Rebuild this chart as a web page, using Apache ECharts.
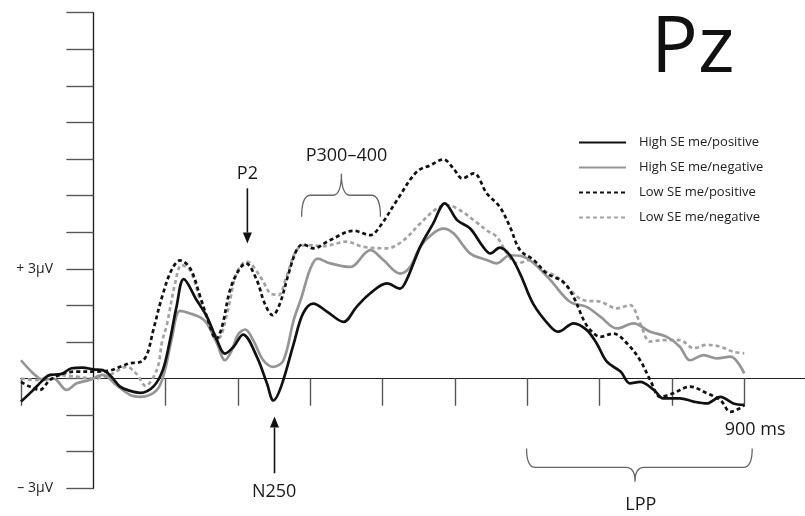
<!DOCTYPE html>
<html><head><meta charset="utf-8">
<script src="https://cdn.jsdelivr.net/npm/echarts@6/dist/echarts.min.js"></script>
<style>html,body{margin:0;padding:0;background:#fff}#c{width:805px;height:516px}</style>
</head><body><div id="c"></div>
<script>
// ---- data (time in ms, amplitude in µV) ----
const names = ['High SE me/positive','High SE me/negative','Low SE me/positive','Low SE me/negative'];

const hpT = [-100,-85,-70,-60,-45,-30,-15,0,13,25,37,50,65,83,96,106,115,125,143,157,171,182,194,207,226,240,249,260,277,290,304,323,346,364,383,406,424,433,452,470,486,503,521,539,549,562,576,590,608,632,643,664,682,696,710,729,742,756,775,788,811,830,848,867,885,900];
const hpV = [-0.63,-0.35,-0.05,0.1,0.12,0.28,0.3,0.25,0.23,0.05,-0.22,-0.33,-0.39,-0.22,0.23,1.05,1.96,2.72,2.14,1.69,1.05,0.68,0.87,1.2,0.6,-0.13,-0.6,-0.2,0.95,1.78,2.05,1.83,1.55,1.96,2.33,2.6,2.46,2.69,3.6,4.24,4.79,4.33,4.1,3.6,3.42,3.58,3.37,2.87,2.05,1.42,1.28,1.51,1.33,0.96,0.46,0.19,-0.13,-0.09,-0.31,-0.54,-0.54,-0.63,-0.68,-0.5,-0.68,-0.72];

const hnT = [-100,-83,-69,-55,-37,-23,-5,13,32,51,65,88,99,108,120,134,148,157,171,182,191,200,210,221,235,249,263,277,288,300,310,327,355,383,401,424,438,452,470,484,498,521,544,558,576,595,609,632,659,682,701,724,747,770,793,811,825,844,862,881,900];
const hnV = [0.5,0.14,-0.04,0,-0.31,-0.13,-0.04,0.1,-0.18,-0.45,-0.5,-0.31,0.23,1.05,1.85,1.78,1.67,1.51,0.96,0.5,0.75,1.2,1.34,1.05,0.5,0.32,0.5,1.6,2.23,3.0,3.28,3.15,3.05,3.51,3.24,2.87,3.05,3.6,3.97,4.1,3.97,3.42,3.24,3.15,3.37,3.33,3.15,2.69,2.1,1.96,1.69,1.37,1.51,1.28,1.14,0.87,0.5,0.64,0.55,0.6,0.14];

const lpT = [-100,-88,-74,-60,-41,-23,5,23,37,51,65,74,83,95,108,120,134,148,157,170,178,189,201,211,226,237,248,258,270,281,290,304,327,360,383,396,420,447,466,484,498,510,526,544,562,576,590,609,627,650,664,678,687,701,719,738,756,770,784,802,825,848,867,881,894,900];
const lpV = [-0.09,-0.22,-0.31,-0.04,0.14,0.19,0.19,0.22,0.32,0.42,0.45,0.65,1.33,2.23,2.96,3.23,3.01,2.23,1.69,1.08,1.42,2.42,2.96,3.15,2.69,2.05,1.73,2.05,2.87,3.51,3.67,3.56,3.78,4.04,3.92,4.15,4.88,5.65,5.83,5.99,5.74,5.47,5.61,5.06,4.69,4.15,3.51,3.24,2.87,2.64,2.23,1.6,1.33,1.14,1.23,0.96,0.5,-0.04,-0.5,-0.4,-0.22,-0.4,-0.59,-0.91,-0.81,-0.72];

const lnT = [-100,-78,-55,-23,0,23,46,60,72,88,95,102,113,122,134,148,161,173,185,198,212,231,244,249,256,267,281,295,318,350,373,406,429,452,475,489,507,526,544,558,572,586,604,622,641,655,678,701,724,742,756,770,788,811,830,848,867,885,900];
const lnV = [0,-0.04,0.1,0.05,0,0.1,0.32,0.12,-0.2,0.25,1.0,1.5,2.6,3.1,2.95,2.14,1.51,1.1,1.78,2.87,3.2,2.78,2.33,2.3,2.28,2.78,3.51,3.65,3.62,3.74,3.6,3.56,3.78,4.24,4.65,4.74,4.6,4.33,4.05,3.87,3.42,3.15,3.24,2.96,2.78,2.51,2.14,2.1,1.92,2.01,1.51,1.01,1.05,1.05,0.83,0.92,0.87,0.73,0.69];

// axis ticks
const xTickValues = [-100,100,200,300,400,500,600,700,800,900];
const yLabelValues = [3,-3];

// annotations
const noteText = ['P2','N250','P300\u2013400','900 ms','LPP'];
const noteT = [213,250,350,915,757];
const noteV = [5.6,-3.11,6.1,-1.41,-3.46];

const arrowT = [213,250.5];
const arrowFromV = [5.2,-2.59];
const arrowToV = [3.69,-1.04];

const braceT1 = [288,599];
const braceT2 = [397,911];
const braceTipT = [343,749];
const braceEndV = [4.42,-1.91];
const braceMidV = [5.01,-2.43];
const braceTipV = [5.6,-2.82];

// ---- chart ----
const FONT = 'Open Sans';
const chart = echarts.init(document.getElementById('c'), null, {renderer:'canvas'});
const pairs = (T,V) => T.map((t,i)=>[t,V[i]]);

function lineSeries(name, T, V, color, dashed, z){
  return {name, type:'line', data:pairs(T,V), symbol:'none', smooth:0.35, z,
    lineStyle:{color, width:2.7, type: dashed ? [4,3] : 'solid', cap:'butt'},
    itemStyle:{color}, emphasis:{disabled:true}, silent:true};
}

const xCommon = {type:'value', min:-100, max:984, splitLine:{show:false},
  axisLabel:{show:false}, axisLine:{onZero:true, lineStyle:{color:'#222', width:1.2}}};
const yCommon = {type:'value', min:-3, max:10, interval:1, splitLine:{show:false},
  axisLine:{onZero:true, lineStyle:{color:'#222', width:1.2}}};

const option = {
  animation:false,
  backgroundColor:'#fff',
  title:{text:'Pz', left:651, top:11, padding:0,
    textStyle:{fontSize:78, fontWeight:'normal', color:'#111', fontFamily:FONT}},
  legend:{data:names, orient:'vertical', left:578, top:136, padding:0,
    itemWidth:47, itemHeight:14, itemGap:12, selectedMode:false,
    itemStyle:{opacity:0},
    textStyle:{fontSize:13, color:'#222', fontFamily:FONT, padding:[0,0,0,8]}},
  grid:{left:21, right:0, top:12.7, bottom:27.7, containLabel:false, outerBoundsMode:'none'},
  xAxis:[
    Object.assign({}, xCommon, {axisTick:{show:true, inside:false, length:27, customValues:xTickValues, lineStyle:{color:'#555', width:1.2}}}),
    Object.assign({}, xCommon, {axisTick:{show:true, inside:true, length:27, customValues:xTickValues, lineStyle:{color:'#555', width:1.2}}})
  ],
  yAxis:[
    Object.assign({}, yCommon, {axisTick:{show:true, inside:false, length:26, lineStyle:{color:'#555', width:1.2}},
      axisLabel:{show:true, customValues:yLabelValues, margin:-32, fontSize:14, color:'#222', fontFamily:FONT,
        formatter: v => (v > 0 ? '+ ' : '\u2013 ') + Math.abs(v) + '\u03bcV'}}),
    Object.assign({}, yCommon, {axisTick:{show:true, inside:true, length:27, lineStyle:{color:'#555', width:1.2}},
      axisLabel:{show:false}})
  ],
  series:[
    lineSeries(names[3], lnT, lnV, '#a3a3a3', true, 2),
    lineSeries(names[1], hnT, hnV, '#959595', false, 3),
    lineSeries(names[2], lpT, lpV, '#111', true, 4),
    lineSeries(names[0], hpT, hpV, '#111', false, 5),
    {type:'custom', name:'notes', silent:true, clip:false, z:6,
      data: pairs(noteT, noteV),
      renderItem:(params, api) => {
        const i = params.dataIndex;
        const p = api.coord([noteT[i], noteV[i]]);
        return {type:'text', x:p[0], y:p[1], style:{text:noteText[i], fill:'#1a1a1a',
          fontSize:18, fontFamily:FONT, align:'center', verticalAlign:'middle'}};
      }},
    {type:'custom', name:'arrows', silent:true, clip:false, z:6,
      data: pairs(arrowT, arrowToV),
      renderItem:(params, api) => {
        const i = params.dataIndex;
        const p0 = api.coord([arrowT[i], arrowFromV[i]]);
        const p1 = api.coord([arrowT[i], arrowToV[i]]);
        const dir = p1[1] > p0[1] ? 1 : -1, hl = 11, hw = 4.5;
        return {type:'group', children:[
          {type:'line', shape:{x1:p0[0], y1:p0[1], x2:p1[0], y2:p1[1]-dir*hl}, style:{stroke:'#111', lineWidth:1.6}},
          {type:'polygon', shape:{points:[[p1[0],p1[1]],[p1[0]-hw,p1[1]-dir*hl],[p1[0]+hw,p1[1]-dir*hl]]}, style:{fill:'#111'}}
        ]};
      }},
    {type:'custom', name:'braces', silent:true, clip:false, z:6,
      data: pairs(braceTipT, braceMidV),
      renderItem:(params, api) => {
        const i = params.dataIndex;
        const a = api.coord([braceT1[i], braceEndV[i]]);
        const b = api.coord([braceT2[i], braceEndV[i]]);
        const m = api.coord([braceTipT[i], braceMidV[i]]);
        const t = api.coord([braceTipT[i], braceTipV[i]]);
        const yM = m[1], r = 9;
        const d = 'M'+a[0]+','+a[1]+' Q'+a[0]+','+yM+' '+(a[0]+r)+','+yM+
          ' L'+(m[0]-r)+','+yM+' Q'+m[0]+','+yM+' '+m[0]+','+t[1]+
          ' Q'+m[0]+','+yM+' '+(m[0]+r)+','+yM+
          ' L'+(b[0]-r)+','+yM+' Q'+b[0]+','+yM+' '+b[0]+','+b[1];
        return {type:'path', shape:{pathData:d}, style:{stroke:'#666', fill:null, lineWidth:1.3}};
      }}
  ]
};
chart.setOption(option);
</script>
</body></html>
